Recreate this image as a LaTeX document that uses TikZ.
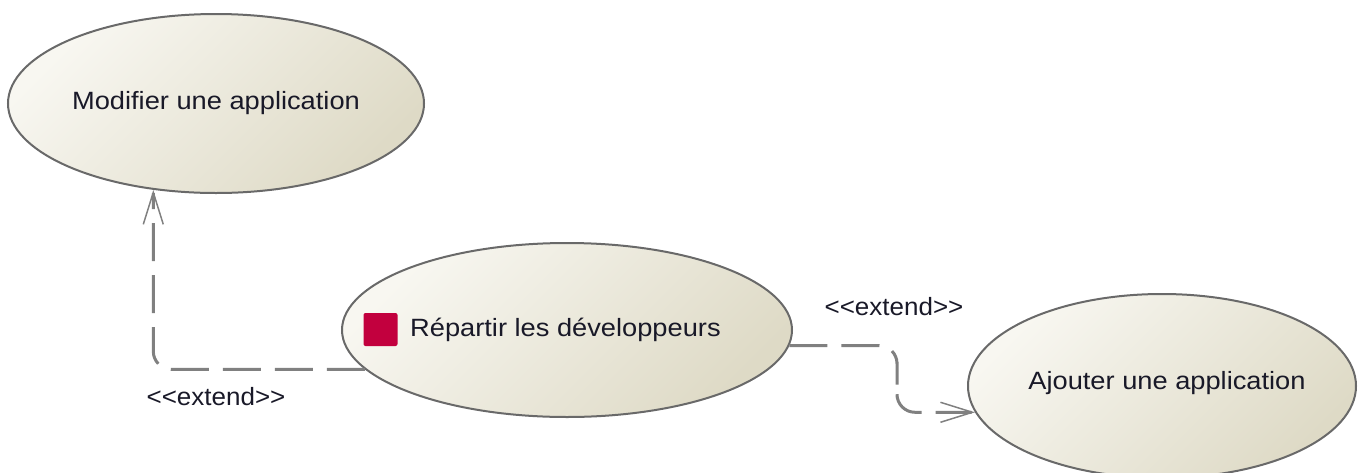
\documentclass[tikz,border=0pt]{standalone}
\usepackage{graphicx}
\usepackage{fontspec}
\setmainfont{Liberation Sans}
\usetikzlibrary{shapes.geometric,arrows.meta}
\definecolor{eLight}{RGB}{248,247,241}
\definecolor{eDark}{RGB}{222,218,198}
\definecolor{eLine}{RGB}{105,105,105}
\definecolor{cLine}{RGB}{128,128,128}
\definecolor{txt}{RGB}{25,25,40}
\definecolor{crim}{RGB}{194,0,62}
\newcommand{\wide}[1]{\scalebox{1.09}[1]{#1}}
\newcommand{\lwide}[1]{\scalebox{1.04}[1]{#1}}
\begin{document}
\begin{tikzpicture}[x=1pt,y=-1pt,
  usecase/.style={ellipse, draw=eLine, line width=2pt, top color=eLight, bottom color=eDark, shading angle=45, inner sep=0pt},
  lbl/.style={text=txt, font=\fontsize{25}{30}\selectfont, inner sep=0pt},
  ext/.style={draw=cLine, line width=3pt, dash pattern=on 38pt off 14pt, rounded corners=18pt,
    -{Straight Barb[length=32pt,width=20pt,line width=1.5pt]}},
]
\useasboundingbox (0,0) rectangle (1358,472);
\node[usecase, minimum width=416pt, minimum height=179pt] (e1) at (216,103.5) {};
\node[lbl] (t1) at (216,103) {\wide{Modifier une application}};
\node[usecase, minimum width=450pt, minimum height=174pt] (e2) at (567,330) {};
\node[fill=crim, rounded corners=2pt, minimum width=34pt, minimum height=33pt, inner sep=0pt] (sq) at (380.5,329.5) {};
\node[lbl, anchor=west] (t2) at (410,330) {\wide{Répartir les développeurs}};
\node[usecase, minimum width=388pt, minimum height=184pt] (e3) at (1162,386) {};
\node[lbl] (t3) at (1167,383) {\wide{Ajouter une application}};
\coordinate (m2) at (897,380);
\draw[ext] (e2.191.3) -| (e1.234.2);
\draw[ext] (e2.356.7) -| (m2) |- (e3.188.3);
\node[lbl] (x1) at (216,397) {\lwide{<{}<extend>{}>}};
\node[lbl] (x2) at (894,307) {\lwide{<{}<extend>{}>}};
\end{tikzpicture}
\end{document}
